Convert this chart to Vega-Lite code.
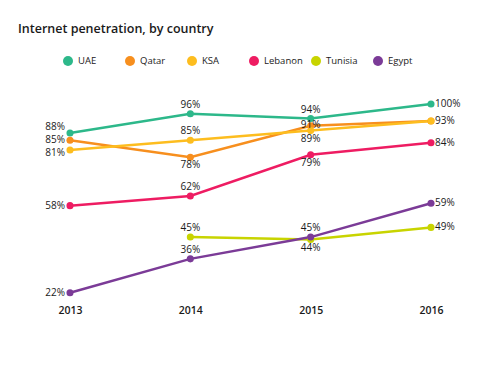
{
  "$schema": "https://vega.github.io/schema/vega-lite/v6.json",
  "autosize": "none",
  "width": 361,
  "height": 196,
  "padding": {"left": 70, "top": 104, "right": 69, "bottom": 86},
  "background": "white",
  "config": {
    "view": {"stroke": null},
    "font": "Open Sans",
    "text": {"font": "Open Sans", "fontSize": 10, "color": "#1a1a1a"}
  },
  "title": {
    "text": "Internet penetration, by country",
    "anchor": "start",
    "frame": "group",
    "orient": "top",
    "dx": -52,
    "offset": 21,
    "fontSize": 12.5,
    "fontWeight": 600,
    "font": "Open Sans",
    "color": "#1a1a1a"
  },
  "data": {
    "values": [
      {"country": "UAE", "year": "2013", "value": 0.88},
      {"country": "UAE", "year": "2014", "value": 0.96},
      {"country": "UAE", "year": "2015", "value": 0.94},
      {"country": "UAE", "year": "2016", "value": 1.00},
      {"country": "Qatar", "year": "2013", "value": 0.85},
      {"country": "Qatar", "year": "2014", "value": 0.78},
      {"country": "Qatar", "year": "2015", "value": 0.91},
      {"country": "Qatar", "year": "2016", "value": 0.93},
      {"country": "KSA", "year": "2013", "value": 0.81},
      {"country": "KSA", "year": "2014", "value": 0.85},
      {"country": "KSA", "year": "2015", "value": 0.89},
      {"country": "KSA", "year": "2016", "value": 0.93},
      {"country": "Lebanon", "year": "2013", "value": 0.58},
      {"country": "Lebanon", "year": "2014", "value": 0.62},
      {"country": "Lebanon", "year": "2015", "value": 0.79},
      {"country": "Lebanon", "year": "2016", "value": 0.84},
      {"country": "Tunisia", "year": "2014", "value": 0.45},
      {"country": "Tunisia", "year": "2015", "value": 0.44},
      {"country": "Tunisia", "year": "2016", "value": 0.49},
      {"country": "Egypt", "year": "2013", "value": 0.22},
      {"country": "Egypt", "year": "2014", "value": 0.36},
      {"country": "Egypt", "year": "2015", "value": 0.45},
      {"country": "Egypt", "year": "2016", "value": 0.59}
    ]
  },
  "encoding": {
    "x": {
      "field": "year", "type": "ordinal",
      "scale": {"type": "point", "padding": 0},
      "axis": {
        "title": null, "domain": false, "ticks": false, "grid": false,
        "labelAngle": 0, "labelPadding": 5, "labelFontSize": 10.5,
        "labelFontWeight": 600, "labelColor": "#1a1a1a", "labelFont": "Open Sans"
      }
    },
    "y": {
      "field": "value", "type": "quantitative",
      "scale": {"domain": [0.19, 1.0], "zero": false, "nice": false},
      "axis": null
    }
  },
  "layer": [
    {
      "mark": {"type": "line", "strokeWidth": 2.5},
      "encoding": {
        "color": {
          "field": "country", "type": "nominal",
          "scale": {
            "domain": ["UAE", "Qatar", "KSA", "Lebanon", "Tunisia", "Egypt"],
            "range": ["#2db88a", "#f78f1e", "#fdbd1f", "#ee1c62", "#c8d400", "#7b3b97"]
          },
          "legend": {
            "title": null,
            "orient": "none",
            "legendX": -7,
            "legendY": -48,
            "direction": "horizontal",
            "columns": 6,
            "gridAlign": "all",
            "columnPadding": 8,
            "symbolType": "circle",
            "symbolSize": 100,
            "symbolStrokeWidth": 0,
            "symbolOpacity": 1,
            "labelFontSize": 9.5,
            "labelOffset": 5,
            "labelColor": "#1a1a1a",
            "labelFont": "Open Sans"
          }
        }
      }
    },
    {
      "mark": {"type": "point", "filled": true, "size": 50, "opacity": 1},
      "encoding": {
        "color": {"field": "country", "type": "nominal", "legend": null}
      }
    },
    {
      "transform": [{"filter": "datum.year == '2013' && datum.country != 'UAE' && datum.country != 'KSA'"}],
      "mark": {"type": "text", "align": "right", "baseline": "middle", "dx": -5},
      "encoding": {"text": {"field": "value", "type": "quantitative", "format": ".0%"}}
    },
    {
      "transform": [{"filter": "datum.year == '2013' && datum.country == 'UAE'"}],
      "mark": {"type": "text", "align": "right", "baseline": "middle", "dx": -5, "dy": -6},
      "encoding": {"text": {"field": "value", "type": "quantitative", "format": ".0%"}}
    },
    {
      "transform": [{"filter": "datum.year == '2013' && datum.country == 'KSA'"}],
      "mark": {"type": "text", "align": "right", "baseline": "middle", "dx": -5, "dy": 3},
      "encoding": {"text": {"field": "value", "type": "quantitative", "format": ".0%"}}
    },
    {
      "transform": [{"filter": "datum.year == '2016' && datum.country != 'Qatar'"}],
      "mark": {"type": "text", "align": "left", "baseline": "middle", "dx": 4},
      "encoding": {"text": {"field": "value", "type": "quantitative", "format": ".0%"}}
    },
    {
      "transform": [{"filter": "(datum.year == '2014' && datum.country != 'Qatar') || (datum.year == '2015' && (datum.country == 'UAE' || datum.country == 'Egypt'))"}],
      "mark": {"type": "text", "align": "center", "baseline": "middle", "dy": -9},
      "encoding": {"text": {"field": "value", "type": "quantitative", "format": ".0%"}}
    },
    {
      "transform": [{"filter": "datum.year == '2015' && datum.country == 'Qatar'"}],
      "mark": {"type": "text", "align": "center", "baseline": "middle", "dy": -1},
      "encoding": {"text": {"field": "value", "type": "quantitative", "format": ".0%"}}
    },
    {
      "transform": [{"filter": "(datum.year == '2014' && datum.country == 'Qatar') || (datum.year == '2015' && (datum.country == 'KSA' || datum.country == 'Lebanon' || datum.country == 'Tunisia'))"}],
      "mark": {"type": "text", "align": "center", "baseline": "middle", "dy": 8},
      "encoding": {"text": {"field": "value", "type": "quantitative", "format": ".0%"}}
    }
  ]
}
